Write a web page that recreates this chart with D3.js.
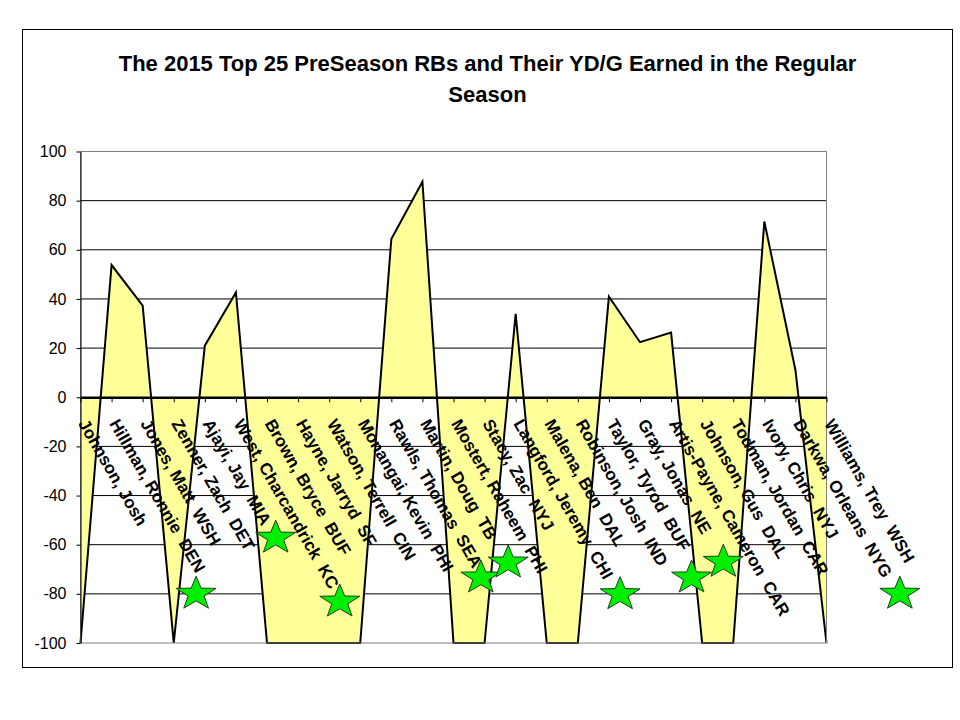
<!DOCTYPE html>
<html>
<head>
<meta charset="utf-8">
<script src="https://cdn.jsdelivr.net/npm/d3@7/dist/d3.min.js"></script>
<style>
	body { margin: 0; background: #fff; }
	text { font-family: Arial, "Liberation Sans", sans-serif; }
</style>
</head>
<body>
<svg id="chart" width="960" height="720"></svg>
<script>
// players in preseason rank order, with team
var players = [
	"Johnson, Josh", "Hillman, Ronnie  DEN", "Jones, Matt  WSH", "Zenner, Zach  DET",
	"Ajayi, Jay  MIA", "West, Charcandrick  KC", "Brown, Bryce  BUF", "Hayne, Jarryd  SF",
	"Watson, Terrell  CIN", "Monangai, Kevin  PHI", "Rawls, Thomas  SEA", "Martin, Doug  TB",
	"Mostert, Raheem  PHI", "Stacy, Zac  NYJ", "Langford, Jeremy  CHI", "Malena, Ben  DAL",
	"Robinson, Josh  IND", "Taylor, Tyrod  BUF", "Gray, Jonas  NE", "Artis-Payne, Cameron  CAR",
	"Johnson, Gus  DAL", "Todman, Jordan  CAR", "Ivory, Chris  NYJ", "Darkwa, Orleans  NYG",
	"Williams, Trey  WSH"
];

// YD/G earned in the regular season (clipped at -100)
var ydgValues = [
	-100, 53.8, 37.3, -100, 21, 42.6, -100, -100, -100, -100, 64.4, 87.7,
	-100, -100, 33.9, -100, -100, 40.9, 22.4, 26.3, -100, -100, 71.5, 11.1, -100
];

// green stars pasted on the chart: position in category units and value
var starSpots = [3.72, 6.28, 8.34, 12.88, 13.76, 17.36, 19.66, 20.68, 26.36];
var starValues = [-80, -57.2, -83.2, -73.4, -67.3, -80.2, -73.4, -67, -80];

var yTicks = [-100, -80, -60, -40, -20, 0, 20, 40, 60, 80, 100];
var titleLines = ["The 2015 Top 25 PreSeason RBs and Their YD/G Earned in the Regular", "Season"];

var plot = { left: 80.5, top: 151.5, right: 826.5, bottom: 643 };
var svg = d3.select("#chart");

var x = d3.scalePoint()
	.domain(players)
	.range([plot.left, plot.right]);

var xSpot = d3.scaleLinear()
	.domain([0, players.length - 1])
	.range([plot.left, plot.right]);

var y = d3.scaleLinear()
	.domain([-100, 100])
	.range([plot.bottom, plot.top]);

// chart border
svg.append("rect")
	.attr("x", 22.5)
	.attr("y", 29.5)
	.attr("width", 930)
	.attr("height", 638)
	.style("fill", "white")
	.style("stroke", "black");

// gridlines (behind the area)
svg.append("g")
	.selectAll("line")
	.data(yTicks.filter(function(d) { return d != 0 && Math.abs(d) != 100; }))
	.enter()
	.append("line")
	.attr("x1", plot.left)
	.attr("x2", plot.right)
	.attr("y1", function(d) { return y(d); })
	.attr("y2", function(d) { return y(d); })
	.style("stroke", "black")
	.style("stroke-width", 1);

// area filled to the zero line
var area = d3.area()
	.x(function(d, i) { return x(players[i]); })
	.y0(y(0))
	.y1(function(d) { return y(d); });

svg.append("path")
	.datum(ydgValues)
	.attr("d", area)
	.style("fill", "#FFFF99")
	.style("stroke", "none");

var line = d3.line()
	.x(function(d, i) { return x(players[i]); })
	.y(function(d) { return y(d); });

svg.append("path")
	.datum(ydgValues)
	.attr("d", line)
	.style("fill", "none")
	.style("stroke", "black")
	.style("stroke-width", 2)
	.style("stroke-linejoin", "miter");

// plot border
svg.append("rect")
	.attr("x", plot.left)
	.attr("y", plot.top)
	.attr("width", plot.right - plot.left)
	.attr("height", plot.bottom - plot.top)
	.style("fill", "none")
	.style("stroke", "#808080");

// y axis
var yAxis = svg.append("g")
	.attr("transform", "translate(" + plot.left + ",0)")
	.call(d3.axisLeft(y)
		.tickValues(yTicks)
		.tickSize(4)
		.tickSizeOuter(0)
		.tickPadding(10)
		.tickFormat(function(d) { return String(d); })); // plain hyphen, as in the original

yAxis.select(".domain").style("stroke", "black");
yAxis.selectAll(".tick line").style("stroke", "black");
yAxis.selectAll(".tick text")
	.style("font-family", "Arial, 'Liberation Sans', sans-serif")
	.style("font-size", "16px")
	.style("fill", "black");

// category axis at zero
var xAxis = svg.append("g")
	.attr("transform", "translate(0," + y(0) + ")")
	.call(d3.axisBottom(x).tickSize(5).tickSizeOuter(0).tickFormat(""));

xAxis.select(".domain").style("stroke", "black").style("stroke-width", 2.5);
xAxis.selectAll(".tick line").style("stroke", "black");

// rotated category labels
svg.append("g")
	.selectAll("text")
	.data(players)
	.enter()
	.append("text")
	.attr("transform", function(d) {
		return "translate(" + (x(d) + 2.5) + ",420.5) rotate(60)";
	})
	.attr("dy", "0.35em")
	.style("font-size", "17px")
	.style("font-weight", "bold")
	.style("fill", "black")
	.style("white-space", "pre")
	.text(function(d) { return d; });

// stars
function starShape(rx, ry, inner) {
	var pts = [];
	for (var k = 0; k < 10; k++) {
		var a = -Math.PI / 2 + k * Math.PI / 5;
		var r = k % 2 ? inner : 1;
		pts.push([Math.cos(a) * r * rx, Math.sin(a) * r * ry]);
	}
	return "M" + pts.join("L") + "Z";
}

svg.append("g")
	.selectAll("path")
	.data(starValues)
	.enter()
	.append("path")
	.attr("transform", function(d, i) {
		return "translate(" + xSpot(starSpots[i]) + "," + y(d) + ")";
	})
	.attr("d", starShape(21, 17.7, 0.4))
	.style("fill", "#00EE00")
	.style("stroke", "#1d3d1d")
	.style("stroke-width", 1);

// title
svg.append("g")
	.selectAll("text")
	.data(titleLines)
	.enter()
	.append("text")
	.attr("x", 487.5)
	.attr("y", function(d, i) { return 71 + i * 31; })
	.style("text-anchor", "middle")
	.style("font-size", "22px")
	.style("font-weight", "bold")
	.style("fill", "black")
	.text(function(d) { return d; });
</script>
</body>
</html>
